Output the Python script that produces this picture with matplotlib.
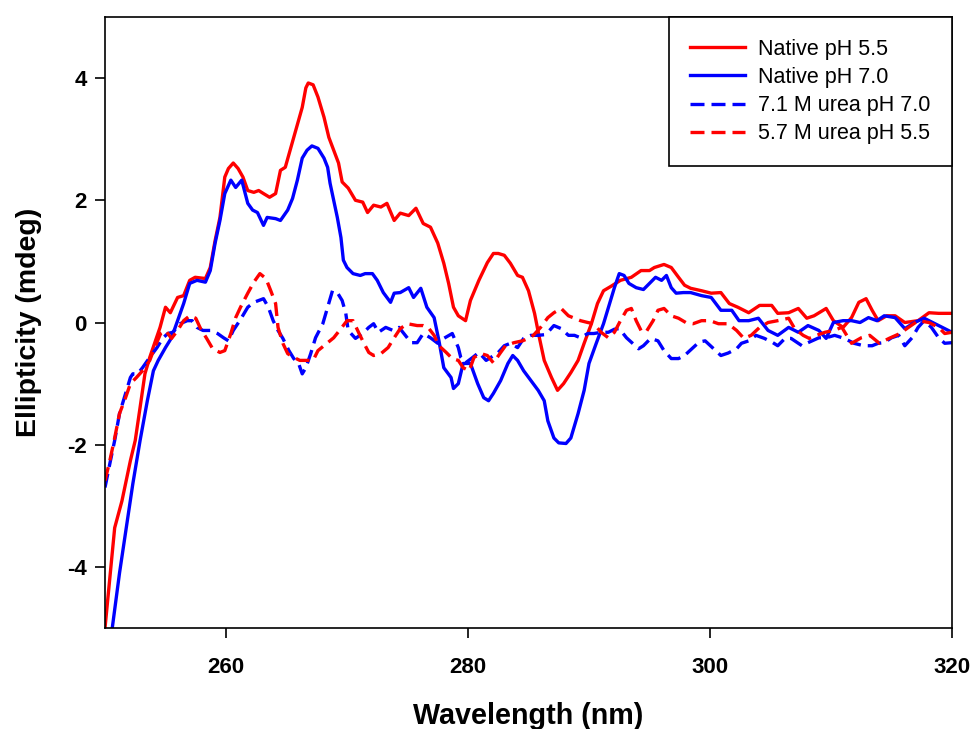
import numpy as np
import matplotlib
matplotlib.use("Agg")
import matplotlib.pyplot as plt

plt.rcParams['font.family'] = ['Liberation Sans', 'DejaVu Sans']

# Native pH 5.5 (red solid)
wl_n55 = [250.0, 250.8, 251.4, 252.1, 252.5, 252.9, 253.3, 253.7, 254.55, 255.0, 255.4, 256.0, 256.5, 257.0,
          257.45, 258.3, 258.7, 259.1, 259.5, 259.9, 260.2, 260.6, 261.0, 261.4, 261.8, 262.3, 262.7, 263.1,
          263.6, 264.1, 264.5, 264.9, 265.3, 265.6, 266.0, 266.3, 266.6, 266.8, 267.2, 267.6, 268.1, 268.5,
          268.9, 269.3, 269.6, 270.1, 270.7, 271.3, 271.7, 272.2, 272.8, 273.3, 273.9, 274.4, 275.1, 275.7,
          276.3, 276.9, 277.5, 278.0, 278.4, 278.8, 279.2, 279.8, 280.2, 280.9, 281.6, 282.1, 282.5, 283.0,
          283.5, 284.1, 284.5, 285.0, 285.5, 285.9, 286.3, 286.9, 287.4, 287.9, 288.5, 289.1, 289.6, 290.2,
          290.7, 291.2, 291.8, 292.6, 293.5, 294.3, 295.0, 295.4, 296.2, 296.8, 297.4, 297.9, 298.4, 299.3,
          300.1, 300.9, 301.6, 302.3, 303.2, 304.1, 305.1, 305.6, 306.5, 307.3, 308.0, 308.6, 309.6, 310.2,
          311.0, 311.7, 312.3, 312.9, 313.4, 313.9, 314.6, 315.3, 316.1, 317.2, 318.1, 318.9, 320.0]
cd_n55 = [-5.0, -3.36, -2.92, -2.26, -1.93, -1.39, -0.84, -0.57, -0.08, 0.25, 0.16, 0.41, 0.44, 0.69,
          0.74, 0.72, 0.90, 1.34, 1.72, 2.38, 2.52, 2.61, 2.52, 2.38, 2.16, 2.13, 2.16, 2.11,
          2.05, 2.11, 2.49, 2.54, 2.82, 3.03, 3.31, 3.52, 3.84, 3.92, 3.89, 3.69, 3.36, 3.03,
          2.82, 2.61, 2.30, 2.20, 2.00, 1.97, 1.80, 1.92, 1.89, 1.95, 1.67, 1.79, 1.75, 1.87,
          1.62, 1.56, 1.30, 0.97, 0.64, 0.25, 0.11, 0.03, 0.36, 0.69, 0.98, 1.13, 1.13, 1.10,
          0.97, 0.77, 0.74, 0.52, 0.15, -0.25, -0.62, -0.90, -1.11, -1.00, -0.82, -0.62, -0.34, -0.02,
          0.31, 0.52, 0.59, 0.69, 0.74, 0.85, 0.85, 0.90, 0.95, 0.90, 0.74, 0.61, 0.56, 0.52,
          0.48, 0.49, 0.31, 0.25, 0.16, 0.28, 0.28, 0.15, 0.16, 0.23, 0.07, 0.11, 0.23, 0.03,
          -0.08, 0.08, 0.33, 0.39, 0.20, 0.03, 0.11, 0.11, 0.00, 0.03, 0.16, 0.15, 0.15]

# Native pH 7.0 (blue solid)
wl_n70 = [250.6, 251.2, 251.8, 252.3, 252.9, 253.5, 254.0, 254.4, 255.0, 255.5, 256.0, 256.5, 257.0, 257.6,
          258.3, 258.7, 259.1, 259.5, 259.9, 260.4, 260.8, 261.3, 261.8, 262.2, 262.6, 263.1, 263.4, 264.1,
          264.5, 265.1, 265.5, 265.9, 266.3, 266.7, 267.1, 267.6, 268.1, 268.4, 268.6, 268.9, 269.2, 269.5,
          269.7, 270.0, 270.5, 271.1, 271.5, 272.1, 272.5, 273.0, 273.6, 273.9, 274.4, 275.1, 275.5, 276.1,
          276.6, 277.2, 277.6, 278.0, 278.6, 278.8, 279.2, 279.6, 280.2, 280.8, 281.3, 281.7, 282.1, 282.7,
          283.3, 283.7, 284.1, 284.6, 285.2, 285.8, 286.3, 286.6, 287.1, 287.5, 288.1, 288.5, 289.1, 289.6,
          290.0, 290.6, 291.2, 291.7, 292.1, 292.5, 292.9, 293.3, 293.9, 294.5, 295.0, 295.5, 296.0, 296.4,
          296.8, 297.2, 297.8, 298.4, 299.3, 300.1, 300.9, 301.8, 302.4, 303.2, 304.0, 304.8, 305.6, 306.5,
          307.3, 308.1, 309.0, 309.6, 310.2, 311.0, 311.7, 312.4, 313.1, 313.8, 314.4, 315.3, 316.1, 316.9,
          317.7, 318.6, 319.4, 320.0]
cd_n70 = [-5.0, -4.10, -3.30, -2.64, -1.93, -1.28, -0.79, -0.62, -0.41, -0.25, 0.03, 0.31, 0.64, 0.69,
          0.66, 0.85, 1.30, 1.67, 2.11, 2.33, 2.21, 2.33, 1.95, 1.84, 1.80, 1.59, 1.72, 1.70,
          1.67, 1.84, 2.03, 2.33, 2.69, 2.82, 2.89, 2.85, 2.69, 2.54, 2.28, 2.00, 1.72, 1.39,
          1.02, 0.90, 0.80, 0.77, 0.80, 0.80, 0.69, 0.49, 0.33, 0.48, 0.49, 0.57, 0.41, 0.56,
          0.25, 0.08, -0.30, -0.74, -0.90, -1.08, -1.00, -0.67, -0.67, -1.00, -1.23, -1.28, -1.16, -0.95,
          -0.67, -0.54, -0.62, -0.79, -0.95, -1.11, -1.28, -1.61, -1.89, -1.97, -1.98, -1.89, -1.49, -1.11,
          -0.67, -0.34, -0.02, 0.31, 0.57, 0.80, 0.77, 0.64, 0.57, 0.54, 0.64, 0.74, 0.69, 0.77,
          0.57, 0.48, 0.49, 0.49, 0.44, 0.41, 0.20, 0.20, 0.03, 0.03, 0.07, -0.13, -0.21, -0.08,
          -0.16, -0.05, -0.13, -0.26, 0.00, 0.03, 0.03, 0.00, 0.08, 0.03, 0.11, 0.08, -0.10, 0.00,
          0.07, -0.02, -0.10, -0.16]

# 7.1 M urea pH 7.0 (blue dashed)
wl_u70 = [250.0, 250.4, 250.8, 251.2, 251.7, 252.1, 252.3, 252.7, 253.1, 253.7, 254.3, 254.8, 255.2, 255.6,
          256.2, 256.8, 257.2, 257.6, 258.1, 258.7, 259.3, 259.8, 260.2, 260.6, 261.2, 261.8, 262.3, 263.1,
          263.5, 263.9, 264.3, 264.7, 265.2, 265.6, 266.0, 266.3, 266.6, 267.0, 267.4, 268.0, 268.4, 268.8,
          269.2, 269.6, 269.9, 270.1, 270.7, 271.3, 271.8, 272.2, 272.6, 273.2, 273.8, 274.3, 274.7, 275.3,
          275.8, 276.3, 276.9, 277.5, 278.0, 278.7, 279.2, 279.4, 279.8, 280.4, 280.9, 281.5, 281.9, 282.5,
          283.0, 283.5, 284.1, 284.6, 285.2, 285.8, 286.3, 286.6, 287.1, 287.7, 288.3, 288.8, 289.3, 289.9,
          290.4, 291.0, 291.6, 292.1, 292.5, 293.1, 293.6, 294.1, 294.5, 295.1, 295.7, 296.2, 296.8, 297.4,
          297.9, 298.5, 299.1, 299.6, 300.3, 300.9, 301.5, 302.2, 302.6, 303.2, 303.8, 304.5, 305.2, 305.6,
          306.2, 306.7, 307.6, 308.1, 309.0, 309.6, 310.3, 311.1, 311.9, 312.7, 313.4, 313.9, 314.4, 315.0,
          315.6, 316.1, 316.7, 317.2, 317.7, 318.3, 318.9, 319.4, 320.0]
cd_u70 = [-2.70, -2.31, -1.93, -1.49, -1.16, -0.90, -0.84, -0.84, -0.74, -0.57, -0.41, -0.25, -0.18, -0.16,
          -0.02, 0.03, 0.03, -0.08, -0.13, -0.13, -0.18, -0.25, -0.30, -0.13, 0.05, 0.25, 0.33, 0.39,
          0.25, 0.03, -0.13, -0.26, -0.46, -0.59, -0.67, -0.84, -0.74, -0.51, -0.25, -0.02, 0.25, 0.52,
          0.49, 0.36, 0.15, -0.13, -0.26, -0.18, -0.08, -0.02, -0.16, -0.08, -0.13, -0.08, -0.18, -0.33,
          -0.33, -0.18, -0.25, -0.34, -0.26, -0.18, -0.41, -0.57, -0.66, -0.57, -0.49, -0.62, -0.57, -0.49,
          -0.38, -0.34, -0.41, -0.26, -0.21, -0.21, -0.20, -0.16, -0.05, -0.10, -0.21, -0.21, -0.25, -0.18,
          -0.18, -0.16, -0.16, -0.11, -0.10, -0.25, -0.34, -0.43, -0.38, -0.26, -0.30, -0.46, -0.59, -0.59,
          -0.54, -0.43, -0.32, -0.30, -0.43, -0.54, -0.50, -0.43, -0.34, -0.30, -0.21, -0.26, -0.33, -0.38,
          -0.26, -0.26, -0.38, -0.33, -0.25, -0.25, -0.21, -0.26, -0.34, -0.38, -0.38, -0.34, -0.33, -0.25,
          -0.21, -0.38, -0.25, -0.08, 0.03, -0.08, -0.25, -0.34, -0.33]

# 5.7 M urea pH 5.5 (red dashed)
wl_u55 = [250.0, 250.4, 250.8, 251.2, 251.7, 252.1, 252.6, 253.1, 253.7, 254.1, 254.6, 255.0, 255.5, 256.0,
          256.5, 257.0, 257.5, 257.9, 258.4, 258.9, 259.5, 259.9, 260.4, 260.8, 261.2, 261.8, 262.3, 262.8,
          263.3, 263.7, 264.1, 264.3, 264.7, 265.1, 265.6, 266.1, 266.7, 267.2, 267.6, 268.4, 268.9, 269.5,
          270.0, 270.5, 271.0, 271.4, 271.8, 272.2, 272.8, 273.4, 273.9, 274.4, 275.0, 275.8, 276.3, 276.7,
          277.2, 277.6, 278.2, 278.7, 279.2, 279.6, 280.1, 280.5, 281.1, 281.6, 282.1, 282.7, 283.1, 283.8,
          284.5, 285.0, 285.4, 286.0, 286.6, 287.1, 287.7, 288.3, 288.8, 289.3, 289.9, 290.4, 291.0, 291.6,
          292.1, 292.6, 293.1, 293.5, 293.9, 294.3, 294.7, 295.3, 295.7, 296.2, 296.8, 297.4, 298.0, 298.6,
          299.3, 300.0, 300.7, 301.5, 302.2, 302.8, 303.4, 304.1, 304.8, 305.6, 306.5, 307.0, 307.7, 308.2,
          308.8, 309.5, 310.2, 310.9, 311.7, 312.5, 313.2, 314.0, 314.8, 315.7, 316.4, 317.2, 318.1, 318.9,
          319.4, 320.0]
cd_u55 = [-2.59, -2.26, -1.89, -1.49, -1.23, -1.00, -0.90, -0.79, -0.62, -0.41, -0.18, -0.13, -0.26, -0.13,
          0.03, 0.11, 0.07, -0.10, -0.26, -0.43, -0.49, -0.46, -0.18, 0.08, 0.25, 0.48, 0.66, 0.80,
          0.72, 0.52, 0.31, -0.08, -0.34, -0.51, -0.57, -0.62, -0.62, -0.62, -0.46, -0.33, -0.25, -0.10,
          0.03, 0.03, -0.18, -0.34, -0.49, -0.54, -0.51, -0.41, -0.25, -0.10, -0.02, -0.05, -0.05, -0.08,
          -0.21, -0.38, -0.49, -0.59, -0.62, -0.74, -0.79, -0.57, -0.51, -0.54, -0.66, -0.49, -0.38, -0.33,
          -0.30, -0.26, -0.21, -0.08, 0.08, 0.16, 0.23, 0.11, 0.07, 0.03, 0.00, -0.02, -0.16, -0.25,
          -0.16, 0.03, 0.20, 0.23, 0.03, -0.13, -0.16, 0.03, 0.20, 0.23, 0.11, 0.07, 0.00, -0.02,
          0.03, 0.03, -0.02, -0.02, -0.13, -0.26, -0.21, -0.08, 0.00, 0.03, 0.07, -0.10, -0.21, -0.26,
          -0.21, -0.16, -0.13, -0.08, -0.34, -0.25, -0.21, -0.34, -0.26, -0.18, -0.08, 0.03, 0.00, -0.08,
          -0.18, -0.16]

x_ticks = [260, 280, 300, 320]
y_ticks = [-4, -2, 0, 2, 4]

fig = plt.figure(figsize=(9.74, 7.29), dpi=100)
ax = fig.add_axes([0.1078, 0.1385, 0.8696, 0.8382])

lw = 2.4
ax.plot(wl_n55, cd_n55, color='#ff0000', lw=lw, label='Native pH 5.5')
ax.plot(wl_n70, cd_n70, color='#0000ff', lw=lw, label='Native pH 7.0')
ax.plot(wl_u70, cd_u70, color='#0000ff', lw=lw, dashes=(4.2, 2.1), label='7.1 M urea pH 7.0')
ax.plot(wl_u55, cd_u55, color='#ff0000', lw=lw, dashes=(4.2, 2.1), label='5.7 M urea pH 5.5')

ax.set_xlim(250, 320)
ax.set_ylim(-5, 5)
ax.set_xticks(x_ticks)
ax.set_yticks(y_ticks)
ax.set_xticklabels([str(t) for t in x_ticks], fontsize=16, fontweight='bold')
ax.set_yticklabels([str(t) for t in y_ticks], fontsize=16, fontweight='bold')
ax.tick_params(direction='out', length=7, width=1.2, top=False, right=False)
ax.tick_params(axis='x', pad=14)
ax.tick_params(axis='y', pad=6)
for s in ax.spines.values():
    s.set_linewidth(1.2)

ax.set_xlabel('Wavelength (nm)', fontsize=20.7, fontweight='bold', labelpad=17)
ax.set_ylabel('Ellipticity (mdeg)', fontsize=20.5, fontweight='bold', labelpad=18)

leg = ax.legend(loc='upper right', bbox_to_anchor=(1.0, 1.0), borderaxespad=0, fontsize=15.5,
                handlelength=2.56, handletextpad=0.6, labelspacing=0.34, borderpad=1.0,
                fancybox=False, framealpha=1, edgecolor='black')
leg.get_frame().set_linewidth(1.2)

fig.savefig('out.png', dpi=100)
